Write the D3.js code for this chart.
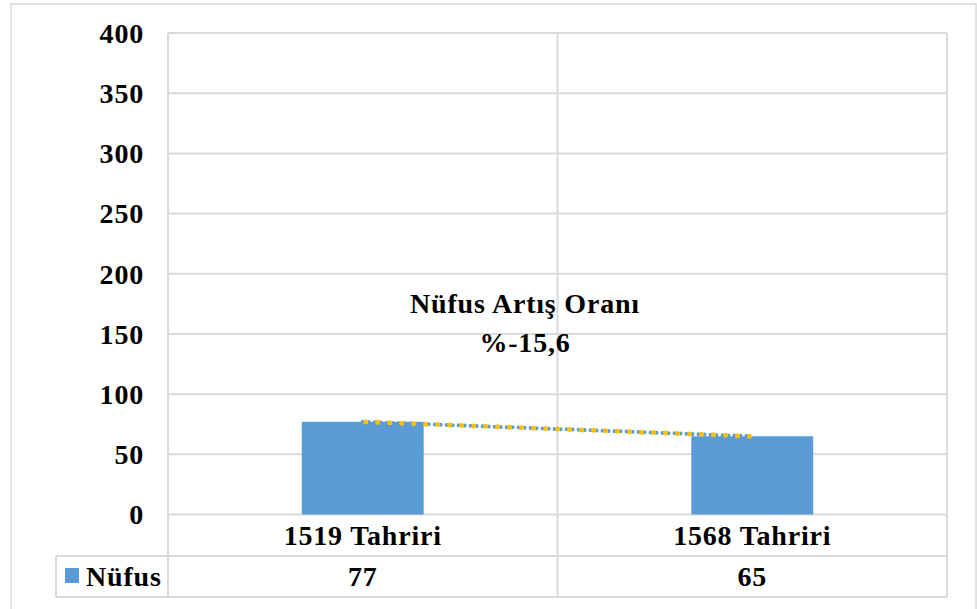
<!DOCTYPE html>
<html>
<head>
<meta charset="utf-8">
<script src="https://cdn.jsdelivr.net/npm/d3@7"></script>
<style>
  body { margin: 0; background: #fff; }
</style>
</head>
<body>
<div id="chart"></div>
<script>
// chart data
const categories = ['1519 Tahriri', '1568 Tahriri'];
const nufus = [77, 65];
const yTicks = [0, 50, 100, 150, 200, 250, 300, 350, 400];
const seriesName = 'Nüfus';
const noteLines = ['Nüfus Artış Oranı', '%-15,6'];

const W = 977, H = 609;
const plot = { left: 168, right: 947, top: 33, bottom: 514.5 };
const rowLine = 556, tableBottom = 597, tableLeft = 56;
const grid = '#d9d9d9';
const barColor = '#5b9bd5';
const font = "'Liberation Serif', 'DejaVu Serif', serif";

const svg = d3.select('#chart').append('svg')
  .attr('width', W).attr('height', H)
  .attr('font-family', font)
  .attr('font-weight', 'bold')
  .attr('font-size', 28)
  .attr('letter-spacing', 0.8);

// outer chart border
svg.append('rect')
  .attr('x', 11).attr('y', 4).attr('width', 965).attr('height', 620)
  .attr('fill', 'none').attr('stroke', grid).attr('stroke-width', 1.5);

const x = d3.scaleBand().domain(categories).range([plot.left, plot.right]).padding(0);
const y = d3.scaleLinear().domain([0, 400]).range([plot.bottom, plot.top]);

// horizontal gridlines
svg.append('g').selectAll('line')
  .data(yTicks).enter().append('line')
  .attr('x1', plot.left).attr('x2', plot.right)
  .attr('y1', d => y(d)).attr('y2', d => y(d))
  .attr('stroke', grid).attr('stroke-width', 2);

// vertical lines: plot edges and category boundaries, run down through the table
const vx = [plot.left].concat(categories.map(c => x(c) + x.bandwidth()));
svg.append('g').selectAll('line')
  .data(vx).enter().append('line')
  .attr('x1', d => d).attr('x2', d => d)
  .attr('y1', plot.top).attr('y2', tableBottom)
  .attr('stroke', grid).attr('stroke-width', 2);

// table rows
[rowLine, tableBottom].forEach(yy => {
  svg.append('line')
    .attr('x1', tableLeft).attr('x2', plot.right)
    .attr('y1', yy).attr('y2', yy)
    .attr('stroke', grid).attr('stroke-width', 2);
});
svg.append('line')
  .attr('x1', tableLeft).attr('x2', tableLeft)
  .attr('y1', rowLine).attr('y2', tableBottom)
  .attr('stroke', grid).attr('stroke-width', 2);

// y axis labels
svg.append('g').selectAll('text')
  .data(yTicks).enter().append('text')
  .attr('x', 144).attr('y', d => y(d))
  .attr('dy', '0.35em')
  .attr('text-anchor', 'end')
  .text(d => d);

// bars
const barW = x.bandwidth() * 0.313;
svg.append('g').selectAll('rect')
  .data(nufus).enter().append('rect')
  .attr('x', (d, i) => x(categories[i]) + x.bandwidth() / 2 - barW / 2)
  .attr('y', d => y(d))
  .attr('width', barW)
  .attr('height', d => y(0) - y(d))
  .attr('fill', barColor);

// linear trendline through the bars
const xs = nufus.map((d, i) => i);
const mx = d3.mean(xs), my = d3.mean(nufus);
const slope = d3.sum(xs, (v, i) => (v - mx) * (nufus[i] - my)) / d3.sum(xs, v => (v - mx) ** 2);
const trend = xs.map(v => my + slope * (v - mx));
const trendLine = d3.line()
  .x((d, i) => x(categories[i]) + x.bandwidth() / 2)
  .y(d => y(d));
svg.append('path')
  .attr('d', trendLine(trend))
  .attr('fill', 'none').attr('stroke', barColor)
  .attr('stroke-width', 4).attr('stroke-linecap', 'round')
  .attr('stroke-dasharray', '0 6');
svg.append('path')
  .attr('d', trendLine(trend))
  .attr('fill', 'none').attr('stroke', '#ffc000')
  .attr('stroke-width', 5).attr('stroke-linecap', 'round')
  .attr('stroke-dasharray', '0 12')
  .attr('stroke-dashoffset', -3);

// annotation
svg.append('g').selectAll('text')
  .data(noteLines).enter().append('text')
  .attr('x', 525)
  .attr('y', (d, i) => 313 + i * 39)
  .attr('text-anchor', 'middle')
  .text(d => d);

// category labels
svg.append('g').selectAll('text')
  .data(categories).enter().append('text')
  .attr('x', d => x(d) + x.bandwidth() / 2)
  .attr('y', 545)
  .attr('text-anchor', 'middle')
  .text(d => d);

// data table values
svg.append('g').selectAll('text')
  .data(nufus).enter().append('text')
  .attr('x', (d, i) => x(categories[i]) + x.bandwidth() / 2)
  .attr('y', 586)
  .attr('text-anchor', 'middle')
  .text(d => d);

// legend key in the table
svg.append('rect')
  .attr('x', 65).attr('y', 568).attr('width', 14).attr('height', 15)
  .attr('fill', barColor);
svg.append('text')
  .attr('x', 86).attr('y', 586)
  .text(seriesName);
</script>
</body>
</html>
